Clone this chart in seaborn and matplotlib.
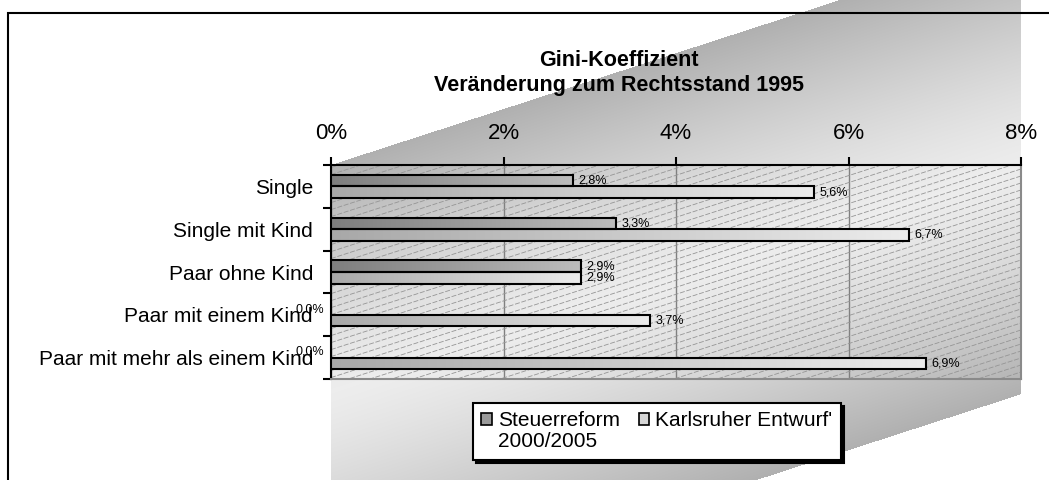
import numpy as np
import pandas as pd
import matplotlib
matplotlib.use('Agg')
import matplotlib.pyplot as plt
import matplotlib.patches as mpatches
from matplotlib.colors import LinearSegmentedColormap
import seaborn as sns

# data
haushalte = ['Single', 'Single mit Kind', 'Paar ohne Kind',
             'Paar mit einem Kind', 'Paar mit mehr als einem Kind']
steuerreform = [0.028, 0.033, 0.029, 0.0, 0.0]
karlsruhe = [0.056, 0.067, 0.029, 0.037, 0.069]
reformen = ['Steuerreform 2000/2005', "Karlsruher Entwurf'"]
x_ticks = [0, 0.02, 0.04, 0.06, 0.08]

df = pd.DataFrame({
    'Haushalt': haushalte * 2,
    'Wert': steuerreform + karlsruhe,
    'Reform': [reformen[0]] * len(haushalte) + [reformen[1]] * len(haushalte),
})

sns.set_theme(style='white')
plt.rcParams['font.family'] = ['Liberation Sans', 'DejaVu Sans']
plt.rcParams.update({'text.color': 'black', 'xtick.color': 'black', 'ytick.color': 'black'})

W, H = 1049, 480
fig = plt.figure(figsize=(W / 100, H / 100), dpi=100, facecolor='white')

# gray diagonal band behind the plot (chart area fill)
bg = fig.add_axes([0, 0, 1, 1], zorder=-1)
yy, xx = np.mgrid[0:H, 0:W] + 0.5
k = 165 / (840 - 331)
y_top = 165 - (xx - 331) * k
t = (yy - y_top - 226.5) / 226.5
inside = (xx >= 331) & (xx <= 1021) & (t >= -1) & (t <= 1)
val = 0.93 - 0.24 * np.clip(np.abs(t), 0, 1) ** 1.3
rgba = np.ones((H, W, 4))
rgba[..., 0] = val
rgba[..., 1] = val
rgba[..., 2] = val
rgba[..., 3] = inside
bg.imshow(rgba, extent=(0, W, H, 0), aspect='auto', interpolation='nearest')
bg.set_axis_off()

ax = fig.add_axes([331 / W, 1 - 379 / H, 690 / W, 214 / H])
ax.set_facecolor('none')
sns.barplot(data=df, x='Wert', y='Haushalt', hue='Reform', orient='h',
            palette=['#999999', '#d9d9d9'], saturation=1, width=0.54,
            edgecolor='black', linewidth=1.5, legend=False, ax=ax, zorder=3)

# diagonal hatch lines of the plot area
slope = (690 / 3.1) / 214
for y0 in np.arange(-slope, 1, 7 / 214):
    ax.plot([0, 1], [y0, y0 + slope], transform=ax.transAxes,
            color='#959595', lw=0.6, ls=(0, (6, 2)), zorder=1)

ax.xaxis.grid(True, color='#808080', lw=1)
ax.set_axisbelow(True)

# gradient fill on the bars
cmaps = [LinearSegmentedColormap.from_list('s', ['#7e7e7e', '#bcbcbc']),
         LinearSegmentedColormap.from_list('k', ['#a8a8a8', '#ececec'])]
grad = np.linspace(0, 1, 256).reshape(1, -1)
for cont, cmap in zip(ax.containers, cmaps):
    for bar in cont:
        w = bar.get_width()
        if w > 0:
            y0, h = bar.get_y(), bar.get_height()
            ax.imshow(grad, cmap=cmap, extent=(0, w, y0 + h, y0), aspect='auto',
                      zorder=2.9, interpolation='bilinear')
        bar.set_facecolor('none')

# value labels
for cont in ax.containers:
    for bar in cont:
        v = bar.get_width()
        lab = f'{v * 100:.1f}%'.replace('.', ',')
        yc = bar.get_y() + bar.get_height() / 2
        if v > 0:
            ax.annotate(lab, (v, yc), xytext=(4, 0), textcoords='offset points',
                        va='center', ha='left', fontsize=9)
        else:
            ax.annotate(lab, (0, yc), xytext=(-5, 0), textcoords='offset points',
                        va='center', ha='right', fontsize=9, annotation_clip=False)

ax.set_xlim(0, 0.08)
ax.set_ylim(4.5, -0.5)
ax.xaxis.tick_top()
ax.set_xticks(x_ticks)
ax.set_xticklabels([f'{int(round(v * 100))}%' for v in x_ticks])
ax.tick_params(axis='x', which='major', top=True, bottom=False, length=6, width=1.5,
               color='black', pad=9, labelsize=16, direction='out')
ax.set_yticks(range(len(haushalte)))
ax.set_yticklabels(haushalte)
ax.tick_params(axis='y', which='major', length=0, pad=13, labelsize=15)
ax.set_yticks(np.arange(-0.5, len(haushalte), 1), minor=True)
ax.tick_params(axis='y', which='minor', left=True, length=6, width=1.5,
               color='black', direction='out')
ax.set_xlabel('')
ax.set_ylabel('')
for s in ['top', 'left']:
    ax.spines[s].set_color('black')
    ax.spines[s].set_linewidth(1.5)
for s in ['right', 'bottom']:
    ax.spines[s].set_color('#8a8a8a')
    ax.spines[s].set_linewidth(1.5)

fig.text(619 / W, 1 - 61 / H, 'Gini-Koeffizient', ha='center', va='center',
         fontsize=15.5, fontweight='bold')
fig.text(619 / W, 1 - 85 / H, 'Veränderung zum Rechtsstand 1995', ha='center',
         va='center', fontsize=15.5, fontweight='bold')

# legend: second line of the first entry sits under its text
first, second = reformen[0].split(' ')
handles = [mpatches.Patch(facecolor='#9a9a9a', edgecolor='black', lw=1.2),
           mpatches.Patch(facecolor='none', edgecolor='none'),
           mpatches.Patch(facecolor='#d6d6d6', edgecolor='black', lw=1.2)]
labels = [first, second, reformen[1]]
leg = fig.legend(handles, labels, ncol=2, loc='upper left',
                 bbox_to_anchor=(473 / W, 1 - 403 / H), frameon=True, fancybox=False,
                 edgecolor='black', framealpha=1, fontsize=15, handlelength=0.5,
                 handleheight=0.5, handletextpad=0.3, columnspacing=0.9,
                 labelspacing=0.1, borderpad=0.4, borderaxespad=0,
                 shadow={'facecolor': 'black', 'edgecolor': 'black', 'alpha': 1})
leg.get_frame().set_linewidth(1.5)

# outer chart border (cut off at right and bottom)
fig.add_artist(mpatches.Rectangle((8 / W, -0.5), 2, 0.5 + 1 - 13 / H,
                                  transform=fig.transFigure, fill=False,
                                  edgecolor='black', lw=1.5, zorder=10))

fig.savefig('out.png', dpi=100)
